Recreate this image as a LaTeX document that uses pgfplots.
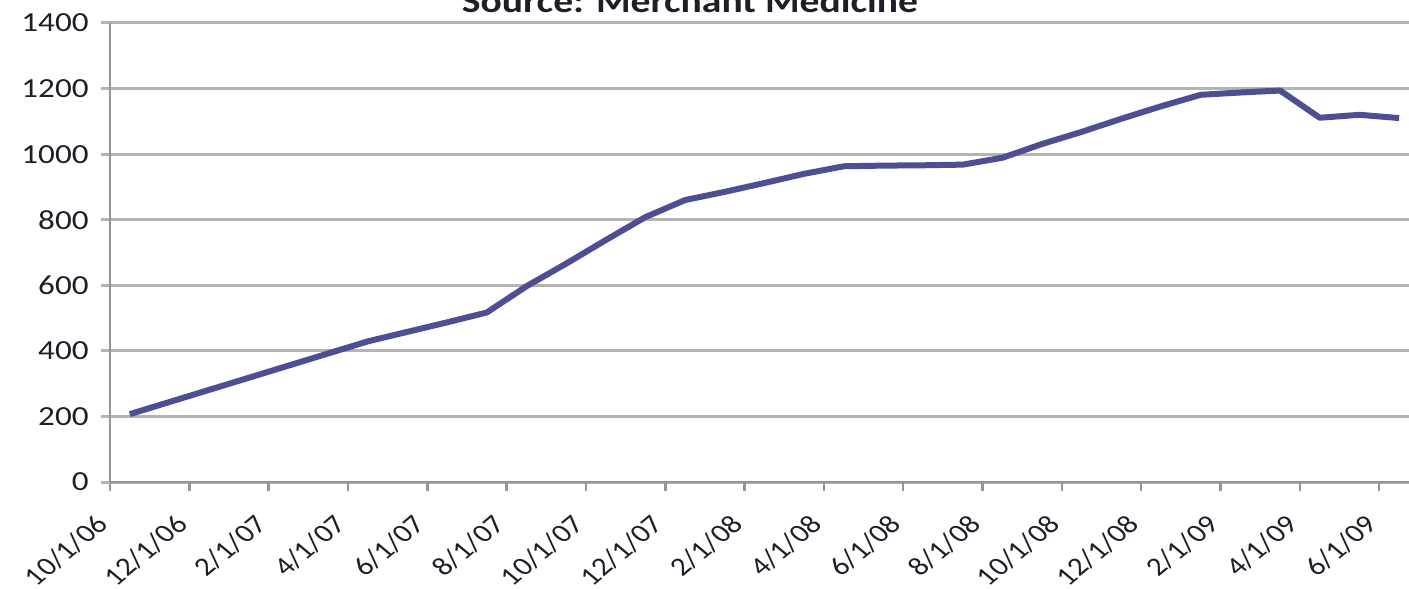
\documentclass[border=0pt]{standalone}
\usepackage{fontspec}
\setmainfont{Carlito}[FakeStretch=1.2]
\newfontfamily\xlabfont{Carlito}
\usepackage{pgfplots}
\pgfplotsset{compat=1.18}
\definecolor{linec}{RGB}{78,78,146}
\definecolor{gridc}{RGB}{180,180,180}
\definecolor{axisc}{RGB}{150,150,150}
\definecolor{txtc}{RGB}{30,30,40}
\begin{document}
\begin{tikzpicture}
\begin{axis}[
  at={(0pt,0pt)}, anchor=south west,
  scale only axis, width=649.5pt, height=229.5pt,
  xmin=0, xmax=32.75, ymin=0, ymax=1400,
  axis x line*=bottom, axis y line*=left,
  every outer x axis line/.append style={-},
  every outer y axis line/.append style={-},
  axis line style={-, axisc, line width=1.3pt},
  ymajorgrids, grid style={gridc, line width=1.5pt},
  ytick={0,200,...,1400},
  xtick={0,2,...,32},
  xticklabels={10/1/06,12/1/06,2/1/07,4/1/07,6/1/07,8/1/07,10/1/07,12/1/07,2/1/08,4/1/08,6/1/08,8/1/08,10/1/08,12/1/08,2/1/09,4/1/09,6/1/09},
  tick align=outside,
  major tick length=4.5pt,
  ytick style={gridc, line width=1.5pt},
  xtick style={axisc, line width=1.2pt},
  /pgf/number format/assume math mode=true,
  /pgf/number format/1000 sep={},
  yticklabel style={font=\fontsize{13.8}{16}\selectfont, text=txtc, anchor=east, inner sep=0pt, xshift=-6pt},
  xticklabel style={font=\xlabfont\fontsize{13}{15}\selectfont, text=txtc, inner sep=0pt, anchor=east, xshift=-3.5pt, yshift=-14.5pt, xscale=1.2, rotate=45},
]
\addplot[linec, line width=3pt, line join=round] coordinates {
(0.5,207) (1.5,244) (2.5,281) (3.5,318) (4.5,355) (5.5,392) (6.5,429)
(7.5,458) (8.5,487) (9.5,517) (10.5,597) (11.5,666) (12.5,738) (13.5,808)
(14.5,860) (15.5,885) (16.5,912) (17.5,940) (18.5,963) (19.5,965) (20.5,966)
(21.5,968) (22.5,989) (23.5,1031) (24.5,1068) (25.5,1108) (26.5,1146)
(27.5,1181) (28.5,1188) (29.5,1194) (30.5,1111) (31.5,1120) (32.5,1110)
};
\end{axis}
\node[font=\bfseries\fontsize{16.5}{18}\selectfont, text=txtc, anchor=base] at (290pt,234.5pt) {Source: Merchant Medicine};
\pgfresetboundingbox
\path[use as bounding box] (-55pt,-53.5pt) rectangle (649.5pt,241pt);
\end{tikzpicture}
\end{document}
